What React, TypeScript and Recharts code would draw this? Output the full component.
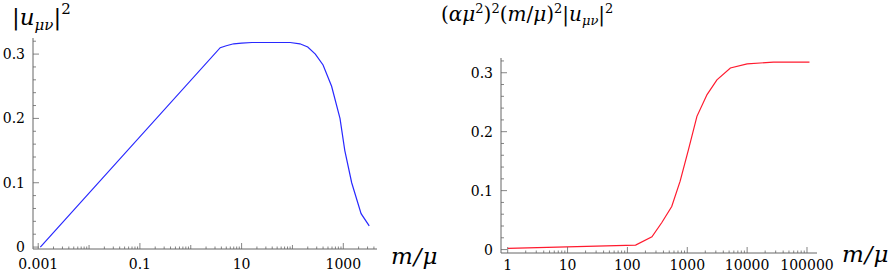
import { LineChart, Line, XAxis, YAxis } from "recharts"

// left panel: |u|^2 against m/mu
const leftMass = [0.0011, 3.8, 5, 7, 10, 16, 40, 90, 140, 200, 282, 400, 589, 861, 1071, 1462, 2239, 3236]
const leftValue = [0, 0.31, 0.313, 0.316, 0.317, 0.318, 0.318, 0.318, 0.316, 0.311, 0.3, 0.283, 0.25, 0.2, 0.15, 0.1, 0.052, 0.033]

// right panel: rescaled quantity
const rightMass = [1, 137, 257, 376, 550, 760, 1050, 1450, 2140, 3130, 5250, 10000, 27500, 110000]
const rightValue = [0.002, 0.0076, 0.0215, 0.046, 0.073, 0.116, 0.17, 0.226, 0.263, 0.288, 0.308, 0.315, 0.318, 0.318]

const leftDecades = [0.001, 0.01, 0.1, 1, 10, 100, 1000]
const leftXLabels = ["0.001", "0.1", "10", "1000"]
const rightDecades = [1, 10, 100, 1000, 10000, 100000]
const rightXLabels = ["1", "10", "100", "1000", "10000", "100000"]

const yTicks = [0, 0.02, 0.04, 0.06, 0.08, 0.1, 0.12, 0.14, 0.16, 0.18, 0.2, 0.22, 0.24, 0.26, 0.28, 0.3, 0.32]
const yLabels = ["0", "0.1", "0.2", "0.3"]

const FONT = "DejaVu Serif"
const AXIS = "#666"

const leftData = leftMass.map((m, i) => ({ m, v: leftValue[i] }))
const rightData = rightMass.map((m, i) => ({ m, v: rightValue[i] }))

// minor log ticks 1..9 per decade
function logTicks(decades: number[], hi: number) {
  const out: number[] = []
  decades.forEach((d) => {
    for (let k = 1; k <= 9; k++) {
      const t = Number((k * d).toPrecision(6))
      if (t <= hi) out.push(t)
    }
  })
  return out
}

const findLabel = (v: number, labels: string[]) => labels.find((l) => Math.abs(Number(l) - v) < 1e-9 * Math.max(1, v))

function LogTick(props: any) {
  const { x, y, payload, labels, dy } = props
  const v = payload.value
  const label = findLabel(v, labels)
  const lg = Math.log10(v)
  const decade = Math.abs(lg - Math.round(lg)) < 1e-6
  const len = label ? 6 : decade ? 4 : 2.5
  return (
    <g>
      <line x1={x} x2={x} y1={y} y2={y - len} stroke={AXIS} strokeWidth={0.8} />
      {label && (
        <text x={x} y={y + dy} textAnchor="middle" fontFamily={FONT} fontSize={14} fill="#000">
          {label}
        </text>
      )}
    </g>
  )
}

function LinTick(props: any) {
  const { x, y, payload } = props
  const label = findLabel(payload.value, yLabels)
  const len = label ? 6 : 3
  return (
    <g>
      <line x1={x} x2={x + len} y1={y} y2={y} stroke={AXIS} strokeWidth={0.8} />
      {label && (
        <text x={x - 8} y={y + 5} textAnchor="end" fontFamily={FONT} fontSize={14} fill="#000">
          {label}
        </text>
      )}
    </g>
  )
}

export default function App() {
  return (
    <div style={{ position: "absolute", left: 0, top: 0, width: 892, height: 273, background: "#fff" }}>
      <div style={{ position: "absolute", left: 0, top: 0 }}>
        <LineChart width={446} height={273} data={leftData} margin={{ top: 38, left: 0, right: 69, bottom: 0 }}>
          <XAxis
            dataKey="m"
            type="number"
            scale="log"
            domain={[0.00079, 4600]}
            allowDataOverflow
            ticks={logTicks(leftDecades, 4600)}
            interval={0}
            height={24}
            tickSize={0}
            tickMargin={0}
            tickLine={false}
            axisLine={{ stroke: AXIS }}
            tick={(p: any) => <LogTick {...p} labels={leftXLabels} dy={20} />}
          />
          <YAxis
            type="number"
            domain={[-0.003, 0.325]}
            allowDataOverflow
            ticks={yTicks}
            interval={0}
            width={33}
            tickSize={0}
            tickMargin={0}
            tickLine={false}
            axisLine={{ stroke: AXIS }}
            tick={(p: any) => <LinTick {...p} />}
          />
          <Line dataKey="v" type="linear" stroke="#2828ff" strokeWidth={1.2} dot={false} isAnimationActive={false} />
        </LineChart>
      </div>
      <div style={{ position: "absolute", left: 446, top: 0 }}>
        <LineChart width={446} height={273} data={rightData} margin={{ top: 58, left: 0, right: 75, bottom: 0 }}>
          <XAxis
            dataKey="m"
            type="number"
            scale="log"
            domain={[0.773, 147000]}
            allowDataOverflow
            ticks={logTicks(rightDecades, 147000)}
            interval={0}
            height={20}
            tickSize={0}
            tickMargin={0}
            tickLine={false}
            axisLine={{ stroke: AXIS }}
            tick={(p: any) => <LogTick {...p} labels={rightXLabels} dy={17} />}
          />
          <YAxis
            type="number"
            domain={[-0.0058, 0.325]}
            allowDataOverflow
            ticks={yTicks}
            interval={0}
            width={55}
            tickSize={0}
            tickMargin={0}
            tickLine={false}
            axisLine={{ stroke: AXIS }}
            tick={(p: any) => <LinTick {...p} />}
          />
          <Line dataKey="v" type="linear" stroke="#ff1a2e" strokeWidth={1.2} dot={false} isAnimationActive={false} />
        </LineChart>
      </div>
      <svg width={892} height={273} style={{ position: "absolute", left: 0, top: 0, pointerEvents: "none" }}>
        <g fill="#000" fontFamily={FONT}>
          <text x={12} y={25} fontSize={23}>
            <tspan>|</tspan>
            <tspan fontStyle="italic">u</tspan>
            <tspan fontStyle="italic" fontSize={15} dy={5}>μν</tspan>
            <tspan dy={-5}>|</tspan>
            <tspan fontSize={15} dy={-11}>2</tspan>
          </text>
          <text x={391} y={264} fontSize={23} fontStyle="italic">
            <tspan>m</tspan>
            <tspan dx={1}>/</tspan>
            <tspan dx={1}>μ</tspan>
          </text>
          <text x={441} y={21} fontSize={20}>
            <tspan>(</tspan>
            <tspan fontStyle="italic">αμ</tspan>
            <tspan fontSize={13} dy={-8}>2</tspan>
            <tspan dy={8}>)</tspan>
            <tspan fontSize={13} dy={-8}>2</tspan>
            <tspan dy={8}>(</tspan>
            <tspan fontStyle="italic">m</tspan>
            <tspan>/</tspan>
            <tspan fontStyle="italic">μ</tspan>
            <tspan>)</tspan>
            <tspan fontSize={13} dy={-8}>2</tspan>
            <tspan dy={8}>|</tspan>
            <tspan fontStyle="italic">u</tspan>
            <tspan fontStyle="italic" fontSize={13} dy={4}>μν</tspan>
            <tspan dy={-4}>|</tspan>
            <tspan fontSize={13} dy={-8}>2</tspan>
          </text>
          <text x={842} y={262} fontSize={23} fontStyle="italic">
            <tspan>m</tspan>
            <tspan dx={1}>/</tspan>
            <tspan dx={1}>μ</tspan>
          </text>
        </g>
      </svg>
    </div>
  )
}
